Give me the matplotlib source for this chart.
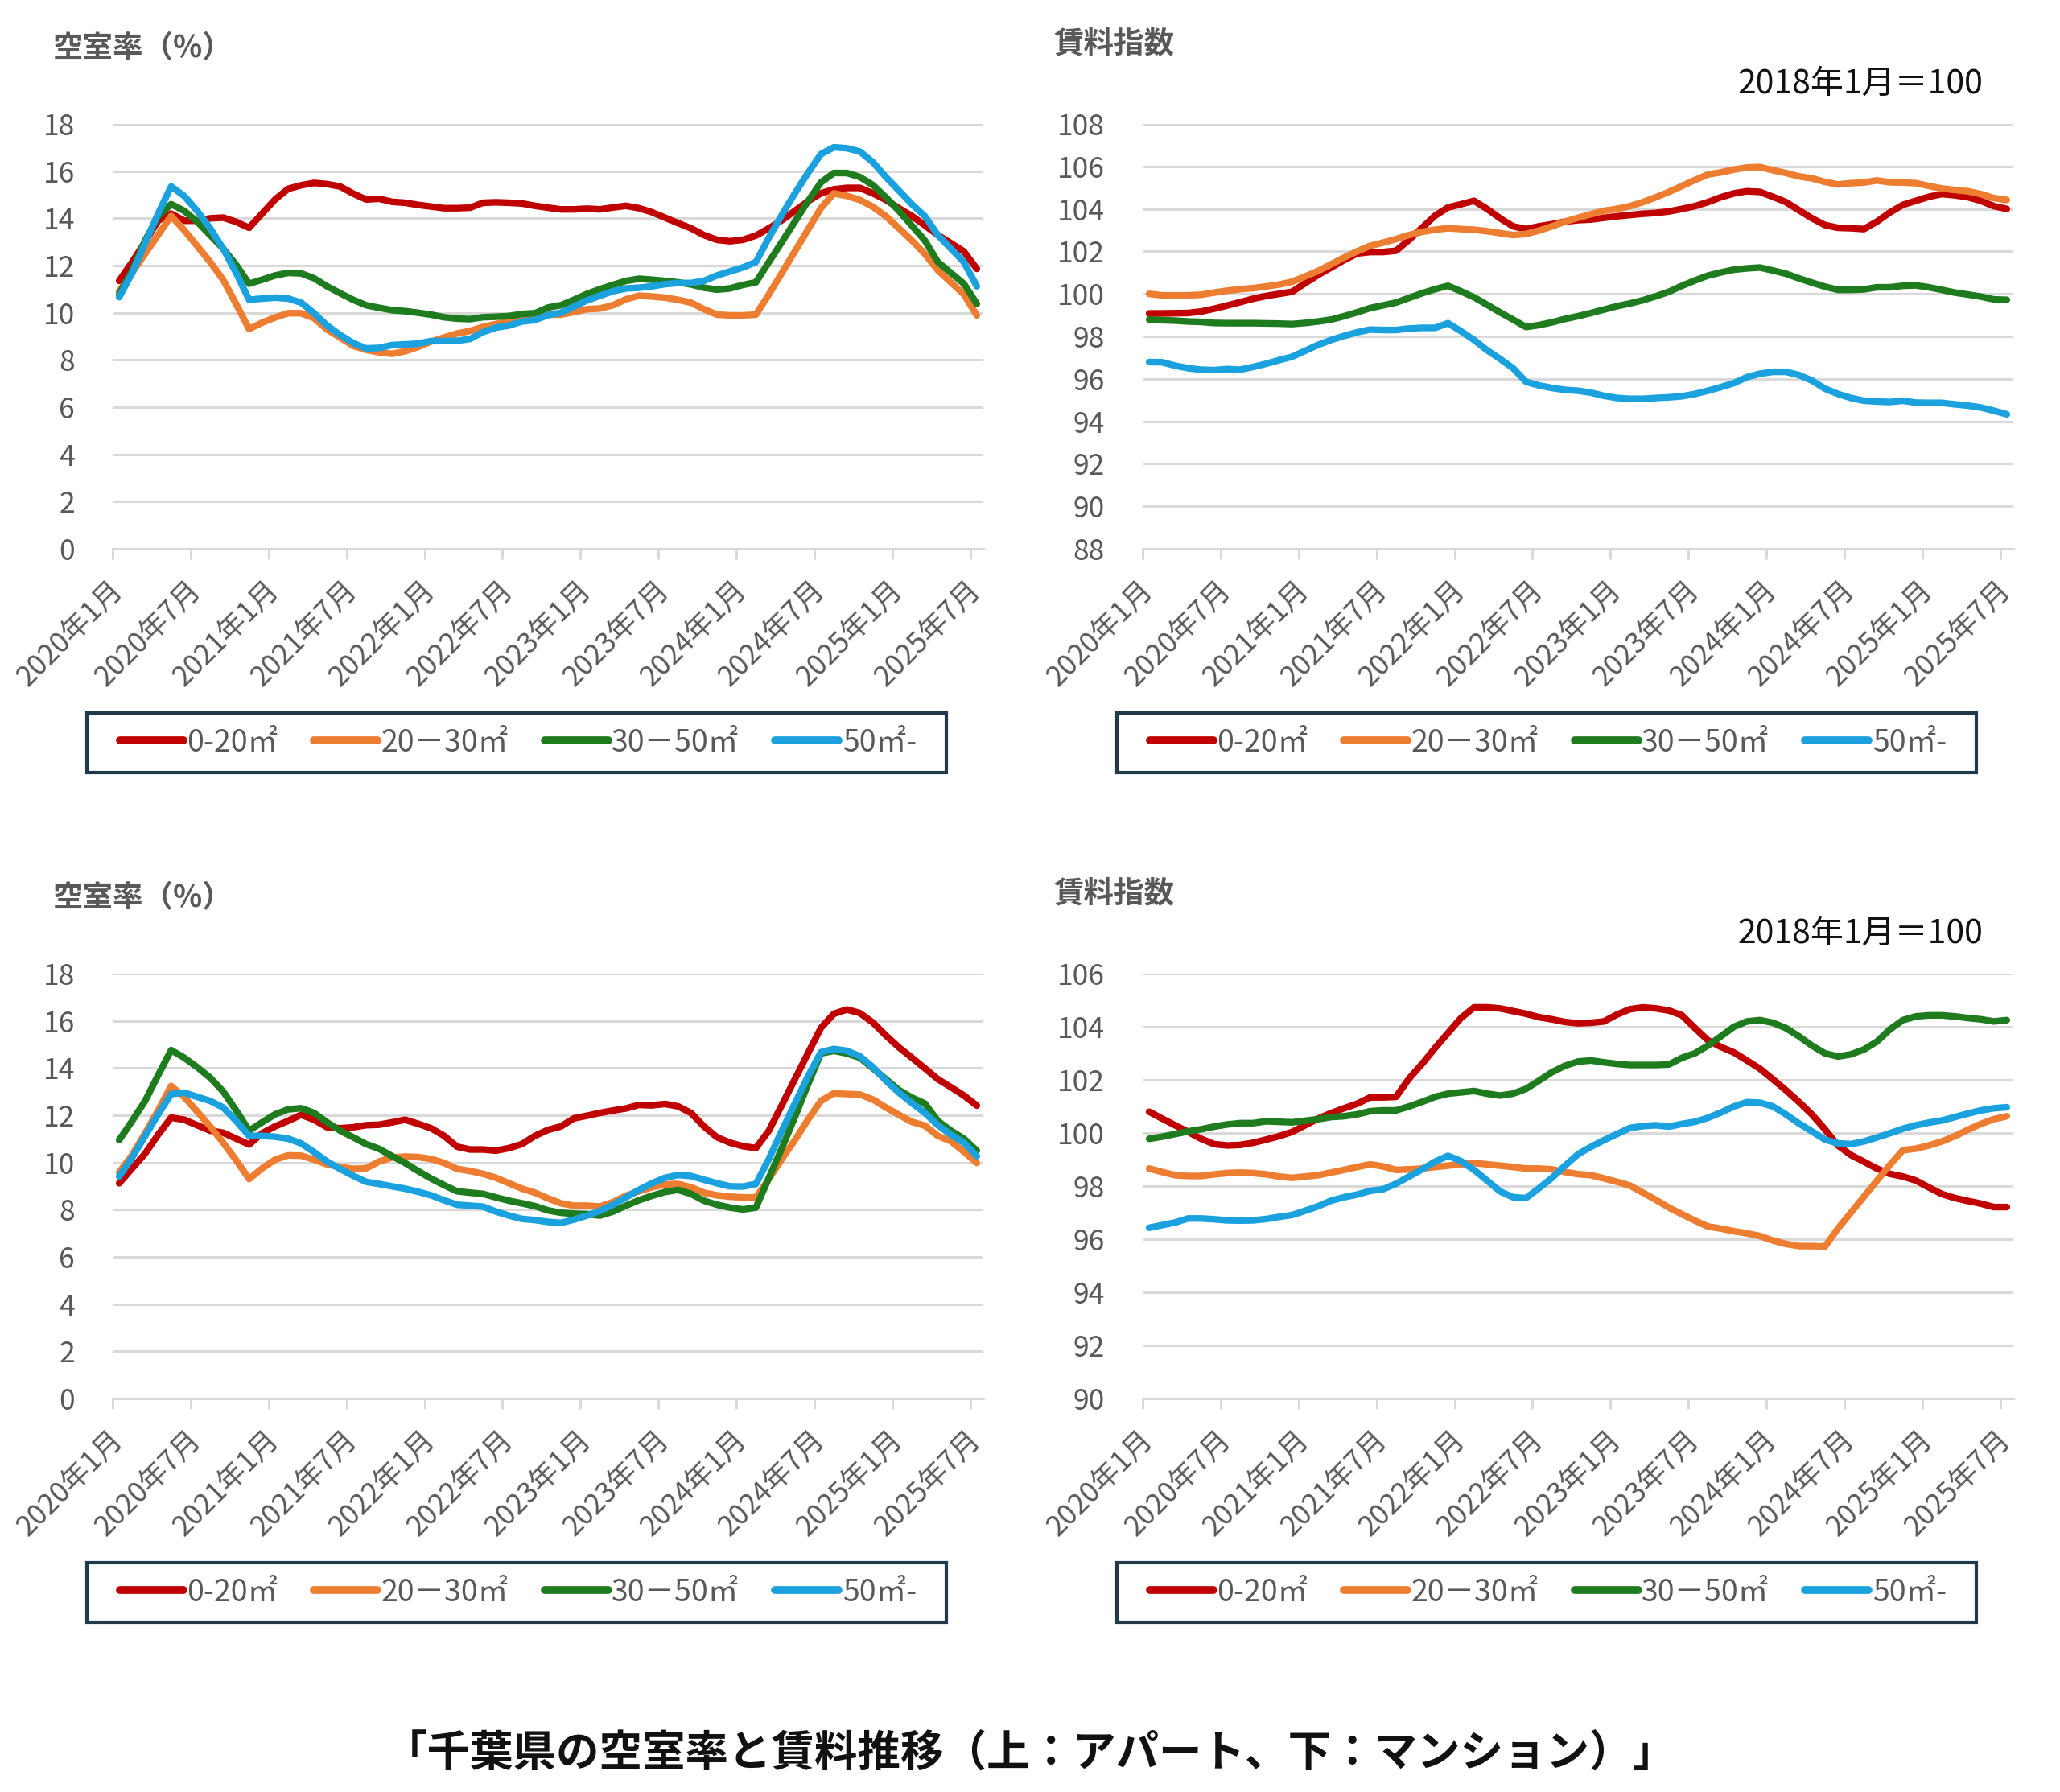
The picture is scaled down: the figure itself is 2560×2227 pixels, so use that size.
"""千葉県の空室率と賃料推移（上：アパート、下：マンション） — 4面の折れ線。"""
import matplotlib
matplotlib.use("Agg")
import matplotlib.pyplot as plt
from matplotlib.lines import Line2D
from matplotlib.patches import Rectangle

plt.rcParams["font.family"] = ["Noto Sans CJK JP", "DejaVu Sans"]

GREY = "#595959"; GRID = "#D9D9D9"; FRAME = "#203A4C"; BLACK = "#111111"
COLORS = ["#C00000", "#ED7D31", "#1E7B1E", "#1BA1DD"]
SERIES = ["0-20㎡", "20－30㎡", "30－50㎡", "50㎡-"]

MONTHS = [f"{y}年{m}月" for y in range(2020, 2026) for m in range(1, 13)][:67]
TICK_LABELS = MONTHS[::6]

# ── アパート 空室率(%) ──
APT_VAC_0_20 = [11.35, 12.15, 13.0, 13.9, 14.2, 13.9, 13.9, 14.0, 14.03, 13.85,
                13.6, 14.2, 14.8, 15.25, 15.4, 15.5, 15.45, 15.35, 15.05, 14.8,
                14.83, 14.7, 14.66, 14.57, 14.5, 14.43, 14.43, 14.45, 14.66, 14.68,
                14.66, 14.63, 14.53, 14.45, 14.38, 14.38, 14.41, 14.38, 14.46, 14.53,
                14.43, 14.26, 14.03, 13.8, 13.58, 13.29, 13.09, 13.03, 13.09, 13.27,
                13.58, 13.92, 14.32, 14.72, 15.06, 15.23, 15.29, 15.29, 15.06, 14.78,
                14.43, 14.1, 13.7, 13.29, 12.95, 12.6, 11.86]
APT_VAC_20_30 = [10.9, 11.7, 12.5, 13.3, 14.1, 13.5, 12.83, 12.15, 11.4, 10.37,
                 9.31, 9.58, 9.8, 9.98, 9.98, 9.77, 9.29, 8.95, 8.6, 8.43,
                 8.32, 8.26, 8.37, 8.55, 8.78, 8.95, 9.12, 9.23, 9.4, 9.52,
                 9.63, 9.77, 9.84, 9.92, 9.92, 10.03, 10.15, 10.18, 10.32, 10.57,
                 10.72, 10.69, 10.64, 10.55, 10.43, 10.15, 9.92, 9.89, 9.89, 9.92,
                 10.78, 11.69, 12.6, 13.52, 14.43, 15.06, 14.95, 14.78, 14.49, 14.09,
                 13.58, 13.06, 12.49, 11.8, 11.29, 10.78, 9.89]
APT_VAC_30_50 = [10.78, 11.8, 13.06, 14.09, 14.6, 14.32, 13.86, 13.29, 12.72, 12.03,
                 11.23, 11.4, 11.58, 11.69, 11.67, 11.46, 11.12, 10.83, 10.55, 10.32,
                 10.21, 10.11, 10.07, 10.0, 9.92, 9.81, 9.75, 9.73, 9.81, 9.83,
                 9.86, 9.95, 9.98, 10.22, 10.32, 10.55, 10.8, 11.0, 11.18, 11.35,
                 11.44, 11.4, 11.35, 11.29, 11.2, 11.06, 10.98, 11.03, 11.18, 11.29,
                 12.15, 13.0, 13.86, 14.72, 15.52, 15.92, 15.92, 15.75, 15.41, 14.89,
                 14.32, 13.69, 13.06, 12.15, 11.69, 11.23, 10.38]
APT_VAC_50 = [10.66, 11.69, 12.95, 14.2, 15.35, 14.95, 14.32, 13.58, 12.72, 11.69,
              10.55, 10.6, 10.64, 10.6, 10.43, 9.98, 9.46, 9.06, 8.72, 8.49,
              8.51, 8.63, 8.66, 8.69, 8.8, 8.8, 8.81, 8.89, 9.18, 9.37,
              9.46, 9.63, 9.69, 9.9, 10.0, 10.26, 10.52, 10.72, 10.91, 11.03,
              11.06, 11.12, 11.21, 11.26, 11.26, 11.35, 11.58, 11.75, 11.92, 12.15,
              13.18, 14.15, 15.06, 15.92, 16.72, 17.01, 16.97, 16.83, 16.38, 15.75,
              15.18, 14.6, 14.09, 13.29, 12.72, 12.15, 11.12]

# ── アパート 賃料指数 ──
APT_RENT_0_20 = [99.08, 99.08, 99.09, 99.1, 99.17, 99.3, 99.45, 99.61, 99.77, 99.9,
                 100.0, 100.1, 100.5, 100.89, 101.24, 101.59, 101.9, 101.97, 101.97, 102.03,
                 102.54, 103.11, 103.68, 104.07, 104.22, 104.38, 104.0, 103.56, 103.18, 103.05,
                 103.18, 103.28, 103.4, 103.47, 103.5, 103.58, 103.65, 103.71, 103.77, 103.81,
                 103.88, 104.0, 104.13, 104.32, 104.55, 104.73, 104.83, 104.8, 104.57, 104.32,
                 103.94, 103.56, 103.24, 103.11, 103.09, 103.05, 103.4, 103.83, 104.19, 104.38,
                 104.57, 104.7, 104.64, 104.55, 104.38, 104.13, 104.0]
APT_RENT_20_30 = [100.0, 99.93, 99.93, 99.93, 99.96, 100.06, 100.15, 100.22, 100.27, 100.35,
                  100.44, 100.57, 100.82, 101.08, 101.39, 101.71, 102.0, 102.26, 102.41, 102.58,
                  102.77, 102.92, 103.02, 103.09, 103.05, 103.02, 102.95, 102.86, 102.77, 102.82,
                  102.98, 103.18, 103.4, 103.58, 103.75, 103.91, 104.0, 104.13, 104.32, 104.55,
                  104.8, 105.08, 105.36, 105.62, 105.72, 105.85, 105.95, 105.97, 105.82, 105.69,
                  105.53, 105.44, 105.27, 105.15, 105.21, 105.24, 105.34, 105.25, 105.24, 105.21,
                  105.08, 104.96, 104.89, 104.83, 104.7, 104.51, 104.42]
APT_RENT_30_50 = [98.79, 98.76, 98.74, 98.7, 98.68, 98.63, 98.62, 98.62, 98.62, 98.61,
                  98.6, 98.58, 98.63, 98.7, 98.79, 98.95, 99.13, 99.33, 99.46, 99.59,
                  99.81, 100.03, 100.22, 100.38, 100.12, 99.84, 99.49, 99.13, 98.79, 98.44,
                  98.53, 98.66, 98.82, 98.95, 99.1, 99.26, 99.42, 99.55, 99.7, 99.89,
                  100.1, 100.38, 100.63, 100.86, 101.01, 101.14, 101.2, 101.24, 101.1, 100.95,
                  100.73, 100.53, 100.34, 100.19, 100.19, 100.21, 100.31, 100.31, 100.38, 100.4,
                  100.31, 100.19, 100.06, 99.97, 99.87, 99.74, 99.72]
APT_RENT_50 = [96.79, 96.78, 96.62, 96.5, 96.43, 96.41, 96.46, 96.43, 96.56, 96.71,
               96.88, 97.04, 97.32, 97.6, 97.83, 98.02, 98.19, 98.32, 98.3, 98.3,
               98.37, 98.4, 98.4, 98.62, 98.24, 97.83, 97.35, 96.94, 96.5, 95.86,
               95.69, 95.57, 95.48, 95.44, 95.35, 95.2, 95.1, 95.06, 95.06, 95.1,
               95.13, 95.18, 95.29, 95.44, 95.61, 95.8, 96.08, 96.24, 96.33, 96.33,
               96.18, 95.92, 95.54, 95.29, 95.1, 94.97, 94.93, 94.91, 94.97, 94.88,
               94.87, 94.87, 94.8, 94.74, 94.65, 94.5, 94.33]

# ── マンション 空室率(%) ──
MAN_VAC_0_20 = [9.12, 9.75, 10.38, 11.18, 11.9, 11.81, 11.58, 11.35, 11.26, 11.01,
                10.76, 11.24, 11.53, 11.76, 12.02, 11.81, 11.49, 11.45, 11.49, 11.58,
                11.6, 11.7, 11.81, 11.64, 11.45, 11.13, 10.67, 10.55, 10.55, 10.5,
                10.61, 10.78, 11.13, 11.38, 11.53, 11.87, 11.98, 12.1, 12.2, 12.29,
                12.44, 12.42, 12.48, 12.38, 12.1, 11.53, 11.07, 10.84, 10.69, 10.61,
                11.35, 12.44, 13.53, 14.62, 15.7, 16.3, 16.48, 16.33, 15.93, 15.38,
                14.88, 14.44, 13.99, 13.53, 13.19, 12.84, 12.41]
MAN_VAC_20_30 = [9.58, 10.32, 11.24, 12.21, 13.24, 12.78, 12.16, 11.53, 10.84, 10.1,
                 9.3, 9.75, 10.12, 10.3, 10.29, 10.12, 9.92, 9.81, 9.73, 9.75,
                 10.04, 10.21, 10.25, 10.23, 10.15, 9.98, 9.73, 9.64, 9.52, 9.35,
                 9.12, 8.89, 8.72, 8.48, 8.27, 8.17, 8.17, 8.13, 8.32, 8.59,
                 8.78, 8.95, 9.07, 9.09, 8.95, 8.72, 8.61, 8.55, 8.52, 8.52,
                 9.3, 10.15, 10.95, 11.81, 12.61, 12.93, 12.9, 12.88, 12.67, 12.33,
                 12.02, 11.72, 11.56, 11.13, 10.9, 10.46, 9.98]
MAN_VAC_30_50 = [10.95, 11.76, 12.61, 13.7, 14.76, 14.44, 14.04, 13.59, 13.01, 12.21,
                 11.35, 11.7, 12.04, 12.25, 12.3, 12.1, 11.7, 11.35, 11.07, 10.78,
                 10.58, 10.27, 9.98, 9.64, 9.32, 9.04, 8.78, 8.72, 8.67, 8.52,
                 8.38, 8.27, 8.15, 7.97, 7.87, 7.83, 7.81, 7.75, 7.92, 8.17,
                 8.4, 8.59, 8.75, 8.84, 8.67, 8.38, 8.21, 8.09, 8.01, 8.09,
                 9.35, 10.61, 11.93, 13.3, 14.62, 14.73, 14.62, 14.44, 13.99, 13.53,
                 13.07, 12.75, 12.5, 11.76, 11.35, 11.01, 10.5]
MAN_VAC_50 = [9.41, 10.21, 11.13, 12.04, 12.9, 12.96, 12.78, 12.61, 12.33, 11.76,
              11.13, 11.13, 11.09, 11.01, 10.81, 10.44, 10.04, 9.73, 9.44, 9.18,
              9.09, 8.99, 8.89, 8.76, 8.61, 8.4, 8.21, 8.17, 8.13, 7.92,
              7.75, 7.61, 7.56, 7.48, 7.44, 7.58, 7.75, 7.95, 8.21, 8.52,
              8.84, 9.12, 9.35, 9.47, 9.43, 9.27, 9.12, 8.99, 8.98, 9.09,
              10.15, 11.35, 12.5, 13.64, 14.67, 14.81, 14.73, 14.5, 14.04, 13.47,
              12.96, 12.52, 12.1, 11.58, 11.18, 10.84, 10.27]

# ── マンション 賃料指数 ──
MAN_RENT_0_20 = [100.8, 100.54, 100.29, 100.04, 99.78, 99.58, 99.53, 99.55, 99.63, 99.75,
                 99.88, 100.04, 100.29, 100.54, 100.75, 100.93, 101.1, 101.34, 101.34, 101.36,
                 102.05, 102.6, 103.2, 103.77, 104.33, 104.73, 104.73, 104.69, 104.59, 104.49,
                 104.36, 104.28, 104.18, 104.13, 104.15, 104.2, 104.46, 104.66, 104.73, 104.69,
                 104.61, 104.43, 103.95, 103.49, 103.24, 103.03, 102.73, 102.42, 102.02, 101.61,
                 101.17, 100.7, 100.14, 99.53, 99.17, 98.92, 98.66, 98.46, 98.36, 98.21,
                 97.95, 97.7, 97.55, 97.44, 97.34, 97.21, 97.21]
MAN_RENT_20_30 = [98.66, 98.53, 98.41, 98.38, 98.38, 98.44, 98.49, 98.51, 98.49, 98.44,
                  98.36, 98.31, 98.36, 98.41, 98.51, 98.61, 98.72, 98.82, 98.74, 98.61,
                  98.63, 98.66, 98.72, 98.77, 98.82, 98.87, 98.82, 98.77, 98.72, 98.66,
                  98.66, 98.63, 98.53, 98.45, 98.41, 98.29, 98.16, 98.02, 97.75, 97.48,
                  97.19, 96.94, 96.7, 96.48, 96.4, 96.3, 96.22, 96.12, 95.95, 95.82,
                  95.74, 95.74, 95.72, 96.4, 97.0, 97.6, 98.2, 98.8, 99.35, 99.41,
                  99.53, 99.68, 99.88, 100.12, 100.34, 100.52, 100.63]
MAN_RENT_30_50 = [99.78, 99.86, 99.96, 100.06, 100.14, 100.24, 100.32, 100.37, 100.37, 100.44,
                  100.42, 100.4, 100.46, 100.52, 100.6, 100.63, 100.7, 100.82, 100.85, 100.85,
                  101.0, 101.17, 101.36, 101.48, 101.53, 101.58, 101.48, 101.41, 101.48, 101.66,
                  101.97, 102.29, 102.53, 102.69, 102.73, 102.66, 102.6, 102.56, 102.56, 102.56,
                  102.58, 102.83, 103.0, 103.29, 103.64, 104.0, 104.2, 104.25, 104.15, 103.95,
                  103.64, 103.29, 103.0, 102.88, 102.96, 103.14, 103.44, 103.9, 104.25, 104.39,
                  104.43, 104.43, 104.39, 104.33, 104.28, 104.2, 104.25]
MAN_RENT_50 = [96.43, 96.53, 96.63, 96.78, 96.78, 96.75, 96.71, 96.7, 96.71, 96.76,
               96.84, 96.91, 97.07, 97.24, 97.45, 97.58, 97.68, 97.82, 97.88, 98.09,
               98.36, 98.63, 98.92, 99.14, 98.94, 98.61, 98.21, 97.8, 97.58, 97.55,
               97.92, 98.31, 98.77, 99.2, 99.48, 99.73, 99.96, 100.19, 100.26, 100.29,
               100.24, 100.34, 100.42, 100.57, 100.77, 101.0, 101.16, 101.14, 101.0, 100.7,
               100.36, 100.06, 99.75, 99.61, 99.58, 99.68, 99.83, 99.99, 100.16, 100.29,
               100.39, 100.47, 100.6, 100.73, 100.85, 100.93, 100.97]

W, H = 2560, 2227
fig = plt.figure(figsize=(W / 100, H / 100), dpi=100)

TFS = 25.5     # 目盛り
LFS = 27       # 凡例
AW, AH = 1082, 528   # 1面のプロット領域(px)


def panel(left, top, series, ylim, step):
    """left/top はピクセル(上端 = 最大目盛り線)。"""
    ax = fig.add_axes([left / W, 1 - (top + AH) / H, AW / W, AH / H])
    x = [i + 0.5 for i in range(len(MONTHS))]
    for vals, c in zip(series, COLORS):
        ax.plot(x, vals, color=c, lw=6, solid_joinstyle="round", solid_capstyle="round")
    ax.set_xlim(0, len(MONTHS))
    ax.set_ylim(*ylim)
    ax.set_yticks(range(ylim[0], ylim[1] + 1, step))
    ax.grid(axis="y", color=GRID, lw=2.2)
    ax.set_axisbelow(True)
    for s in ("top", "left", "right"):
        ax.spines[s].set_visible(False)
    ax.spines["bottom"].set_color(GRID)
    ax.spines["bottom"].set_linewidth(2.2)
    ax.tick_params(axis="y", length=0, pad=34, labelsize=TFS, labelcolor=GREY)
    ax.set_xticks([i + 0.5 for i in range(0, len(MONTHS), 6)])
    ax.set_xticklabels(TICK_LABELS, rotation=45, ha="right", va="center",
                       rotation_mode="anchor", fontsize=TFS, color=GREY)
    ax.tick_params(axis="x", which="major", length=0, pad=33)
    ax.set_xticks(range(0, len(MONTHS), 6), minor=True)
    ax.tick_params(axis="x", which="minor", length=9, width=2.2, color=GRID)
    return ax


def legend(x0, y0, x1, y1):
    """凡例(枠はピクセル指定の四角)。"""
    fig.patches.append(Rectangle((x0 / W, 1 - y1 / H), (x1 - x0) / W, (y1 - y0) / H,
                                 transform=fig.transFigure, facecolor="none",
                                 edgecolor=FRAME, lw=3))
    handles = [Line2D([], [], color=c, lw=7, solid_capstyle="round") for c in COLORS]
    fig.legend(handles, SERIES, loc="center",
               bbox_to_anchor=((x0 + x1) / 2 / W + 2 / W, 1 - (y0 + y1) / 2 / H),
               ncol=4, fontsize=LFS, labelcolor=GREY, frameon=False,
               handlelength=2.1, handletextpad=0.12, columnspacing=1.2)


LX, RX = 140, 1420
TOP, BOT = 154, 1210

panel(LX, TOP, [APT_VAC_0_20, APT_VAC_20_30, APT_VAC_30_50, APT_VAC_50], (0, 18), 2)
panel(RX, TOP, [APT_RENT_0_20, APT_RENT_20_30, APT_RENT_30_50, APT_RENT_50], (88, 108), 2)
panel(LX, BOT, [MAN_VAC_0_20, MAN_VAC_20_30, MAN_VAC_30_50, MAN_VAC_50], (0, 18), 2)
panel(RX, BOT, [MAN_RENT_0_20, MAN_RENT_20_30, MAN_RENT_30_50, MAN_RENT_50], (90, 106), 2)

for dy in (0, BOT - TOP):
    fig.text(66 / W, 1 - (60 + dy) / H, "空室率（%）", fontsize=27, fontweight="bold",
             color=GREY, ha="left", va="center")
    fig.text(1309 / W, 1 - (54 + dy) / H, "賃料指数", fontsize=27, fontweight="bold",
             color=GREY, ha="left", va="center")
    fig.text(2464 / W, 1 - (104 + dy) / H, "2018年1月＝100", fontsize=29.5,
             color=BLACK, ha="right", va="center")
    legend(108, 886 + dy, 1176, 960 + dy)
    legend(1388, 886 + dy, 2456, 960 + dy)

fig.text(0.5, 1 - 2180 / H, "「千葉県の空室率と賃料推移（上：アパート、下：マンション）」",
         fontsize=38.5, fontweight="bold", color=BLACK, ha="center", va="center")

fig.savefig("out.png", dpi=100, facecolor="white")
